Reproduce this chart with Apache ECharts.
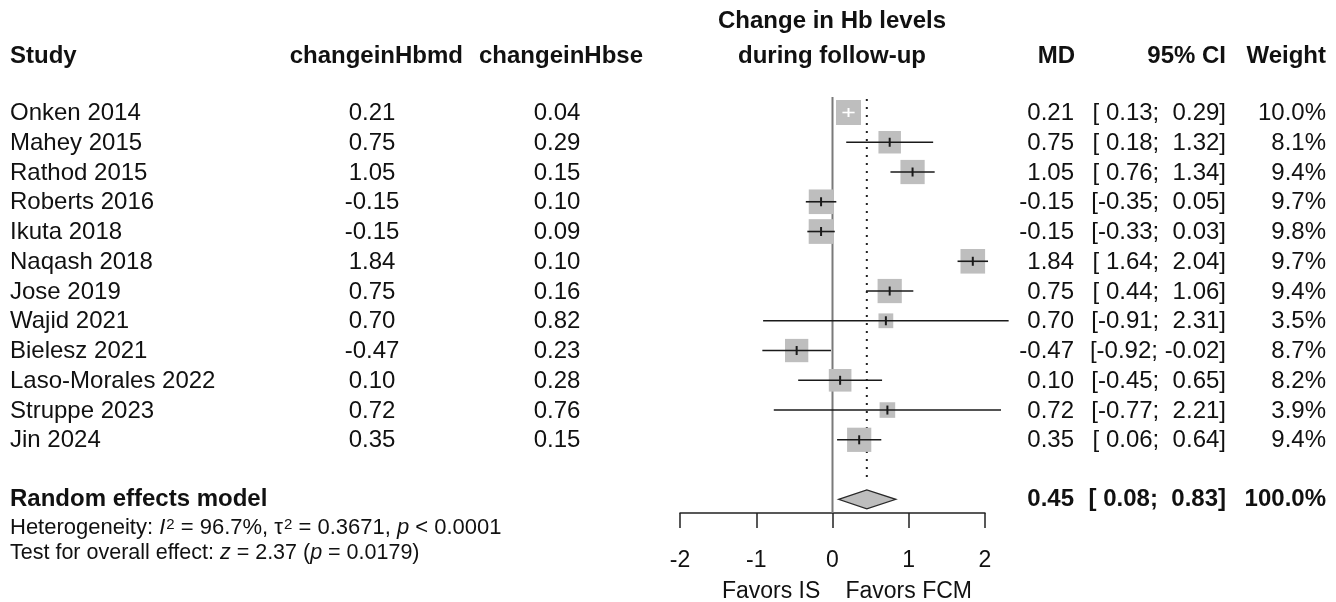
<!DOCTYPE html>
<html>
<head>
<meta charset="utf-8">
<script src="https://cdn.jsdelivr.net/npm/echarts@6/dist/echarts.min.js"></script>
<style>
html,body{margin:0;padding:0;background:#fff;}
#chart{width:1336px;height:602px;}
</style>
</head>
<body>
<div id="chart"></div>
<script>
// ---- data ----
const studies = ['Onken 2014','Mahey 2015','Rathod 2015','Roberts 2016','Ikuta 2018','Naqash 2018','Jose 2019','Wajid 2021','Bielesz 2021','Laso-Morales 2022','Struppe 2023','Jin 2024'];
const mdValues = [0.21, 0.75, 1.05, -0.15, -0.15, 1.84, 0.75, 0.70, -0.47, 0.10, 0.72, 0.35];
const seValues = [0.04, 0.29, 0.15, 0.10, 0.09, 0.10, 0.16, 0.82, 0.23, 0.28, 0.76, 0.15];
const ciLower = [0.13, 0.18, 0.76, -0.35, -0.33, 1.64, 0.44, -0.91, -0.92, -0.45, -0.77, 0.06];
const ciUpper = [0.29, 1.32, 1.34, 0.05, 0.03, 2.04, 1.06, 2.31, -0.02, 0.65, 2.21, 0.64];
const weights = [10.0, 8.1, 9.4, 9.7, 9.8, 9.7, 9.4, 3.5, 8.7, 8.2, 3.9, 9.4];
const pooledMD = 0.45;
const pooledLower = 0.08;
const pooledUpper = 0.83;
const pooledWeight = 100.0;
const xTickValues = [-2, -1, 0, 1, 2];
const heterogeneity = {I2: '96.7%', tau2: '0.3671', p: '< 0.0001'};
const overall = {z: '2.37', p: '0.0179'};

// ---- helpers ----
const FONT = '"Liberation Sans", Arial, sans-serif';
const FS = 24;
const FSB = 24;
const pooledRow = studies.length + 2;
function pad5(v){ let s = v.toFixed(2); while (s.length < 5) s = ' ' + s; return s; }
function ciText(lo, hi){ return '[' + pad5(lo) + '; ' + pad5(hi) + ']'; }

const chart = echarts.init(document.getElementById('chart'), null, {renderer: 'canvas'});

function txt(x, y, text, align, bold, size){
  return {type: 'text', style: {x: x, y: y, text: text, fill: '#111', fontFamily: FONT,
    fontSize: size || (bold ? FSB : FS), fontWeight: bold ? 'bold' : 'normal', align: align, verticalAlign: 'middle'}};
}
function head(x, y, text, align){
  return {type: 'text', style: {x: x, y: y, text: text, font: 'bold ' + FSB + 'px ' + FONT, fill: '#111', align: align, verticalAlign: 'middle'}};
}

const TY = 1; // text vertical offset relative to row centre

const option = {
  animation: false,
  grid: {left: 680, width: 305, top: 82.75, height: 430.25},
  xAxis: {
    type: 'value', min: -2, max: 2, interval: 1, position: 'bottom',
    axisLine: {onZero: false, lineStyle: {color: '#222', width: 1.5}},
    axisTick: {length: 15, lineStyle: {color: '#222', width: 1.5}},
    axisLabel: {fontSize: 23, color: '#111', margin: 36, fontFamily: FONT,
      formatter: function(v){ return xTickValues.indexOf(v) >= 0 ? String(v) : ''; }},
    splitLine: {show: false}
  },
  yAxis: {type: 'value', inverse: true, min: 0, max: 14.46, show: false},
  series: [
    { // reference lines
      type: 'custom', clip: false, silent: true,
      data: [[0, 0]],
      renderItem: function(params, api){
        const z0 = api.coord([0, 0.48]);
        const z1 = api.coord([0, 14.46]);
        const p0 = api.coord([pooledMD, 0.55]);
        const p1 = api.coord([pooledMD, 13.45]);
        return {type: 'group', children: [
          {type: 'line', shape: {x1: z0[0], y1: z0[1], x2: z1[0], y2: z1[1]}, style: {stroke: '#7a7a7a', lineWidth: 2}},
          {type: 'line', shape: {x1: p0[0], y1: p0[1], x2: p1[0], y2: p1[1]}, style: {stroke: '#222', lineWidth: 2, lineDash: [2, 6]}}
        ]};
      }
    },
    { // study markers
      type: 'custom', clip: false, silent: true,
      data: mdValues.map(function(v, i){ return [v, i + 1]; }),
      renderItem: function(params, api){
        const i = params.dataIndex;
        const c = api.coord([mdValues[i], i + 1]);
        const lo = api.coord([ciLower[i], i + 1]);
        const hi = api.coord([ciUpper[i], i + 1]);
        const s = 7.9 * Math.sqrt(weights[i]);
        const inside = (hi[0] - lo[0]) < s;
        const lc = inside ? '#ffffff' : '#1a1a1a';
        return {type: 'group', children: [
          {type: 'rect', shape: {x: c[0] - s / 2, y: c[1] - s / 2, width: s, height: s}, style: {fill: '#bebebe'}},
          {type: 'line', shape: {x1: lo[0], y1: c[1], x2: hi[0], y2: c[1]}, style: {stroke: lc, lineWidth: 1.6}},
          {type: 'line', shape: {x1: c[0], y1: c[1] - 4.5, x2: c[0], y2: c[1] + 4.5}, style: {stroke: lc, lineWidth: 2}}
        ]};
      }
    },
    { // pooled diamond
      type: 'custom', clip: false, silent: true,
      data: [[pooledMD, pooledRow]],
      renderItem: function(params, api){
        const l = api.coord([pooledLower, pooledRow]);
        const r = api.coord([pooledUpper, pooledRow]);
        const m = api.coord([pooledMD, pooledRow]);
        const h = 9.5;
        return {type: 'polygon', shape: {points: [[l[0], m[1]], [m[0], m[1] - h], [r[0], m[1]], [m[0], m[1] + h]]},
          style: {fill: '#bebebe', stroke: '#2a2a2a', lineWidth: 1.3}};
      }
    },
    { // row texts
      type: 'custom', clip: false, silent: true,
      data: studies.map(function(s, i){ return [0, i + 1]; }),
      renderItem: function(params, api){
        const i = params.dataIndex;
        const y = api.coord([0, i + 1])[1] + TY;
        return {type: 'group', children: [
          txt(10, y, studies[i], 'left'),
          txt(372, y, mdValues[i].toFixed(2), 'center'),
          txt(557, y, seValues[i].toFixed(2), 'center'),
          txt(1074, y, mdValues[i].toFixed(2), 'right'),
          txt(1226, y, ciText(ciLower[i], ciUpper[i]), 'right'),
          txt(1326, y, weights[i].toFixed(1) + '%', 'right')
        ]};
      }
    },
    { // pooled texts and axis captions
      type: 'custom', clip: false, silent: true,
      data: [[0, pooledRow]],
      renderItem: function(params, api){
        const y = api.coord([0, pooledRow])[1];
        const fy = api.coord([0, 14.46])[1] + 79;
        const fl = api.coord([-0.16, 0])[0];
        const fr = api.coord([0.17, 0])[0];
        return {type: 'group', children: [
          txt(10, y, 'Random effects model', 'left', true),
          txt(1074, y, pooledMD.toFixed(2), 'right', true),
          txt(1226, y, ciText(pooledLower, pooledUpper), 'right', true),
          txt(1326, y, pooledWeight.toFixed(1) + '%', 'right', true),
          txt(fl, fy, 'Favors IS', 'right', false, 23),
          txt(fr, fy, 'Favors FCM', 'left', false, 23)
        ]};
      }
    }
  ],
  graphic: [
    head(10, 56, 'Study', 'left'),
    head(463, 56, 'changeinHbmd', 'right'),
    head(643, 56, 'changeinHbse', 'right'),
    head(832, 21, 'Change in Hb levels', 'center'),
    head(832, 56, 'during follow-up', 'center'),
    head(1075, 56, 'MD', 'right'),
    head(1226, 56, '95% CI', 'right'),
    head(1326, 56, 'Weight', 'right'),
    {type: 'text', style: {x: 10, y: 528, align: 'left', verticalAlign: 'middle',
      text: '{n|Heterogeneity: }{i|I}{s|2}{n| = ' + heterogeneity.I2 + ', τ}{s|2}{n| = ' + heterogeneity.tau2 + ', }{i|p}{n| ' + heterogeneity.p + '}',
      rich: {
        n: {fontSize: 22, fontFamily: FONT, fill: '#111'},
        i: {fontSize: 22, fontFamily: FONT, fontStyle: 'italic', fill: '#111'},
        s: {fontSize: 15, fontFamily: FONT, fill: '#111', verticalAlign: 'top', padding: [0, 0, 0, 1]}
      }}},
    {type: 'text', style: {x: 10, y: 553, align: 'left', verticalAlign: 'middle',
      text: '{n|Test for overall effect: }{i|z}{n| = ' + overall.z + ' (}{i|p}{n| = ' + overall.p + ')}',
      rich: {
        n: {fontSize: 21.5, fontFamily: FONT, fill: '#111'},
        i: {fontSize: 21.5, fontFamily: FONT, fontStyle: 'italic', fill: '#111'}
      }}}
  ]
};
chart.setOption(option);
</script>
</body>
</html>
